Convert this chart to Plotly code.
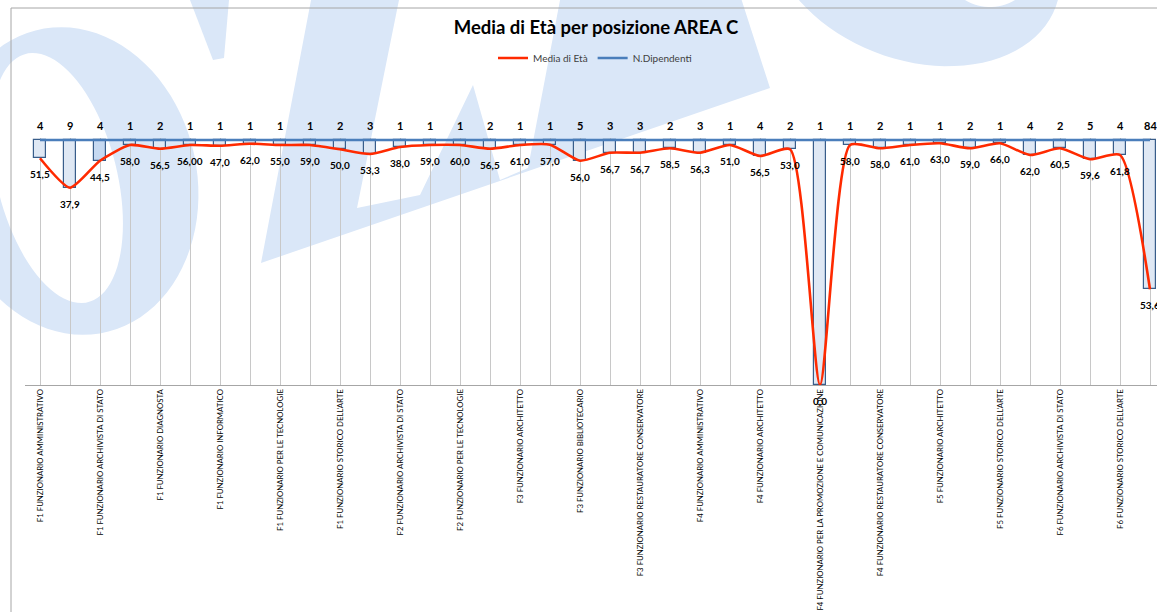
import math
import plotly.graph_objects as go

# ---------------- data ----------------
categorie = [
    "F1 FUNZIONARIO AMMINISTRATIVO", "F1 FUNZIONARIO ARCHITETTO",
    "F1 FUNZIONARIO ARCHIVISTA DI STATO", "F1 FUNZIONARIO BIBLIOTECARIO",
    "F1 FUNZIONARIO DIAGNOSTA", "F1 FUNZIONARIO GEOLOGO",
    "F1 FUNZIONARIO INFORMATICO", "F1 FUNZIONARIO PER LA PROMOZIONE E COMUNICAZIONE",
    "F1 FUNZIONARIO PER LE TECNOLOGIE", "F1 FUNZIONARIO RESTAURATORE CONSERVATORE",
    "F1 FUNZIONARIO STORICO DELL'ARTE", "F2 FUNZIONARIO ARCHITETTO",
    "F2 FUNZIONARIO ARCHIVISTA DI STATO", "F2 FUNZIONARIO BIBLIOTECARIO",
    "F2 FUNZIONARIO PER LE TECNOLOGIE", "F2 FUNZIONARIO STORICO DELL'ARTE",
    "F3 FUNZIONARIO ARCHITETTO", "F3 FUNZIONARIO ARCHIVISTA DI STATO",
    "F3 FUNZIONARIO BIBLIOTECARIO", "F3 FUNZIONARIO PER LE TECNOLOGIE",
    "F3 FUNZIONARIO RESTAURATORE CONSERVATORE", "F3 FUNZIONARIO STORICO DELL'ARTE",
    "F4 FUNZIONARIO AMMINISTRATIVO", "F4 FUNZIONARIO ARCHEOLOGO",
    "F4 FUNZIONARIO ARCHITETTO", "F4 FUNZIONARIO BIBLIOTECARIO",
    "F4 FUNZIONARIO PER LA PROMOZIONE E COMUNICAZIONE", "F4 FUNZIONARIO PER LE TECNOLOGIE",
    "F4 FUNZIONARIO RESTAURATORE CONSERVATORE", "F4 FUNZIONARIO STORICO DELL'ARTE",
    "F5 FUNZIONARIO ARCHITETTO", "F5 FUNZIONARIO RESTAURATORE CONSERVATORE",
    "F5 FUNZIONARIO STORICO DELL'ARTE", "F6 FUNZIONARIO ARCHITETTO",
    "F6 FUNZIONARIO ARCHIVISTA DI STATO", "F6 FUNZIONARIO RESTAURATORE CONSERVATORE",
    "F6 FUNZIONARIO STORICO DELL'ARTE", "Totale complessivo",
]

n_dipendenti = [4, 9, 4, 1, 2, 1, 1, 1, 1, 1, 2, 3, 1, 1, 1, 2, 1, 1, 5, 3,
                3, 2, 3, 1, 4, 2, 1, 1, 2, 1, 1, 2, 1, 4, 2, 5, 4, 84]

media_eta = [51.5, 37.9, 44.5, 58.0, 56.5, 56.00, 47.0, 62.0, 55.0, 59.0,
             50.0, 53.3, 38.0, 59.0, 60.0, 56.5, 61.0, 57.0, 56.0, 56.7,
             56.7, 58.5, 56.3, 51.0, 56.5, 53.0, 0.0, 58.0, 58.0, 61.0,
             63.0, 59.0, 66.0, 62.0, 60.5, 59.6, 61.8, 53.6]
decimali_eta = [1, 1, 1, 1, 1, 2, 1, 1, 1, 1, 1, 1, 1, 1, 1, 1, 1, 1, 1, 1,
                1, 1, 1, 1, 1, 1, 1, 1, 1, 1, 1, 1, 1, 1, 1, 1, 1, 1]

# length of each up/down bar (and level of the red line) as read off the
# picture, in the units of the (reversed, hidden) value axis
profondita = [18.3, 47.7, 20.7, 5.0, 8.7, 5.0, 5.7, 3.7, 5.0, 5.0,
              9.3, 14.0, 7.0, 5.0, 5.0, 8.7, 5.0, 4.7, 20.7, 12.7,
              12.7, 8.3, 12.7, 5.0, 16.0, 9.3, 245.0, 5.0, 8.3, 5.0,
              3.3, 8.3, 3.3, 15.0, 8.3, 19.3, 15.0, 149.3]

idx = list(range(len(categorie)))
eta_txt = [f"{v:.{d}f}".replace(".", ",") for v, d in zip(media_eta, decimali_eta)]
base = [0.0 for _ in n_dipendenti]

# ---------------- layout geometry ----------------
W, H = 1157, 612
ML, MT, MR, MB = 25, 138, 0, 227
PW, PH = W - ML - MR, H - MT - MB
STEP = 30.0  # px per category


def fx(px):
    return (px - ML) / PW


def fy(py):
    return 1 - (py - MT) / PH


def poly(pts):
    return "M " + " L ".join(f"{fx(x):.5f},{fy(y):.5f}" for x, y in pts) + " Z"


def ell(cx, cy, a, b, th, n=90, rev=False):
    t = math.radians(th)
    pts = []
    for k in range(n):
        s = 2 * math.pi * k / n
        u, v = a * math.cos(s), b * math.sin(s)
        pts.append((cx + u * math.cos(t) - v * math.sin(t),
                    cy + u * math.sin(t) + v * math.cos(t)))
    if rev:
        pts = pts[::-1]
    return pts


WM = "#DAE7F8"
shapes = []
# watermark (logo) behind the chart
shapes.append(dict(type="path", xref="paper", yref="paper", layer="below",
                   path=poly(ell(72, 181, 125, 155, -12)) + " " + poly(ell(57, 178, 60, 128, -14, rev=True)),
                   fillcolor=WM, line=dict(width=0)))
shapes.append(dict(type="path", xref="paper", yref="paper", layer="below",
                   path=poly([(190, 0), (229, 0), (224, 58), (213, 60)]),
                   fillcolor=WM, line=dict(width=0)))
shapes.append(dict(type="path", xref="paper", yref="paper", layer="below",
                   path=poly([(312, -5), (400, -5), (357, 208), (420, 195), (473, 85),
                              (500, 180), (528, 168), (561, -5), (740, -5), (770, 88),
                              (261, 263)]),
                   fillcolor=WM, line=dict(width=0)))
shapes.append(dict(type="path", xref="paper", yref="paper", layer="below",
                   path=poly(ell(915, -45, 150, 105, 20)) + " " + poly(ell(990, -45, 50, 52, 0, rev=True)),
                   fillcolor=WM, line=dict(width=0)))
# chart frame
shapes.append(dict(type="rect", xref="paper", yref="paper", layer="above",
                   x0=fx(11), x1=fx(1400), y0=fy(8), y1=fy(900),
                   line=dict(color="#A6A6A6", width=1), fillcolor="rgba(0,0,0,0)"))

FONT = "Lato"
bar_colors = ["#C6D9F1" if i == 2 else "#DFE8F4" for i in idx]

fig = go.Figure()
fig.add_trace(go.Bar(
    x=idx, y=profondita, base=base, width=0.38,
    marker=dict(color=bar_colors, line=dict(color="#385D8A", width=1.2)),
    showlegend=False, hoverinfo="skip"))
fig.add_trace(go.Scatter(
    x=idx, y=profondita, mode="lines", name="Media di Età",
    line=dict(color="#FF2A00", width=2.6, shape="spline", smoothing=0.6)))
fig.add_trace(go.Scatter(
    x=idx, y=base, mode="lines", name="N.Dipendenti",
    line=dict(color="#4A7EBB", width=2.6)))

annotations = []
for i in idx:
    annotations.append(dict(x=i, y=base[i], xref="x", yref="y", text=f"<b>{n_dipendenti[i]}</b>",
                            showarrow=False, yshift=15, xanchor="center", yanchor="middle",
                            font=dict(family=FONT, size=11, color="#000000")))
    annotations.append(dict(x=i, y=profondita[i], xref="x", yref="y", text=f"<b>{eta_txt[i]}</b>",
                            showarrow=False, yshift=-16, xanchor="center", yanchor="middle",
                            font=dict(family=FONT, size=10, color="#000000")))

fig.update_layout(
    width=W, height=H, autosize=False,
    margin=dict(l=ML, r=MR, t=MT, b=MB, pad=0),
    paper_bgcolor="#FFFFFF", plot_bgcolor="rgba(0,0,0,0)",
    font=dict(family=FONT, color="#000000"),
    title=dict(text="<b>Media di Età per posizione AREA C</b>", x=fx(596), xref="paper",
               xanchor="center", y=1 - 28 / H, yref="container", yanchor="middle",
               font=dict(family=FONT, size=18.5, color="#000000")),
    legend=dict(orientation="h", x=fx(595), xanchor="center", y=fy(58), yanchor="middle",
                font=dict(family=FONT, size=10, color="#404040"),
                itemwidth=30, bgcolor="rgba(0,0,0,0)", traceorder="normal"),
    showlegend=True, bargap=0, shapes=shapes, annotations=annotations,
    xaxis=dict(range=[-0.5, -0.5 + PW / STEP], tickmode="array", tickvals=idx,
               ticktext=[c if i % 2 == 0 else "" for i, c in enumerate(categorie)],
               tickangle=-90, tickfont=dict(family=FONT, size=7.8, color="#000000"),
               showgrid=True, gridcolor="#C8C8C8", gridwidth=1.2, zeroline=False,
               showline=True, linecolor="#A6A6A6", linewidth=1, ticks="",
               automargin=False, fixedrange=True),
    yaxis=dict(range=[245, -2], visible=False, showgrid=False, zeroline=False,
               automargin=False, fixedrange=True),
)

fig.write_html("out.html", config={"displayModeBar": False},
               post_script="document.body.style.margin='0';document.body.style.overflow='hidden';")
